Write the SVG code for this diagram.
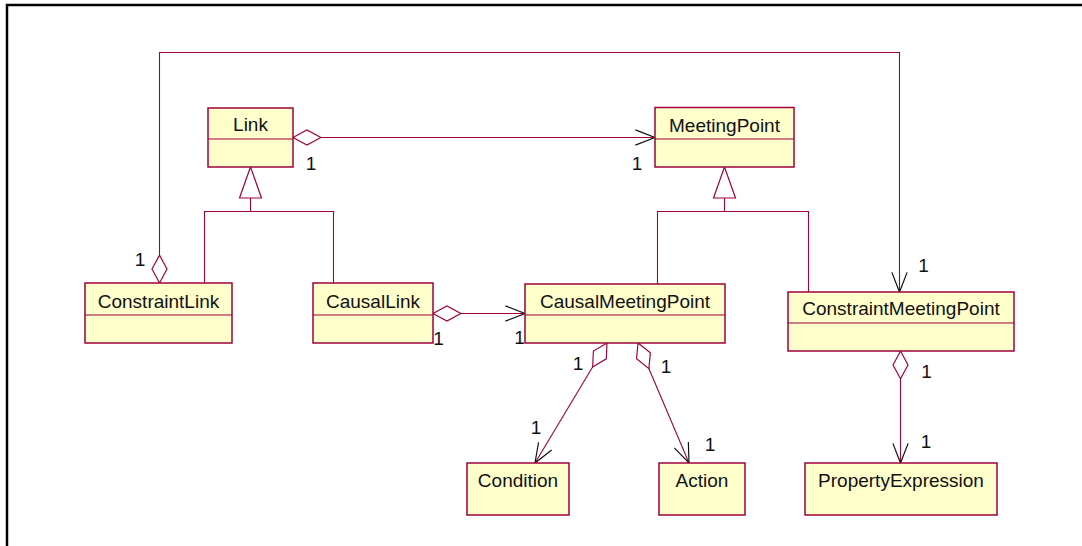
<svg xmlns="http://www.w3.org/2000/svg" width="1082" height="546" viewBox="0 0 1082 546">
  <style>
    .cls { fill: #FFFFCC; stroke: #A0003C; stroke-width: 1.5; }
    .div { stroke: #A0003C; stroke-width: 1.2; fill: none; }
    .name { font-family: "Liberation Sans", Arial, sans-serif; font-size: 19px; fill: #111; text-anchor: middle; }
    .mult { font-family: "Liberation Sans", Arial, sans-serif; font-size: 19px; fill: #111; text-anchor: middle; }
    .edge { fill: none; stroke: #A0003C; stroke-width: 1.1; }
    .gen { fill: #FFFFFF; stroke: #A0003C; stroke-width: 1.2; }
  </style>
  <defs>
    <!-- aggregation diamond at the owning end -->
    <marker id="diamond" markerUnits="userSpaceOnUse" markerWidth="30" markerHeight="18" viewBox="-1 -8 28 16" refX="0" refY="0" orient="auto" overflow="visible">
      <path d="M0,0 L13,-7 L26,0 L13,7 Z" fill="#FFFFFF" stroke="#A0003C" stroke-width="1.1"/>
    </marker>
    <!-- open navigability arrow -->
    <marker id="arrow" markerUnits="userSpaceOnUse" markerWidth="24" markerHeight="18" viewBox="-20 -8 22 16" refX="0" refY="0" orient="auto" overflow="visible">
      <path d="M-18,-7 L0,0 L-18,7" fill="none" stroke="#111" stroke-width="1.1"/>
    </marker>
  </defs>

  <rect width="1082" height="546" fill="#FFFFFF"/>
  <!-- frame -->
  <path d="M7,546 V5 H1082" fill="none" stroke="#000" stroke-width="2.5"/>

  <!-- connectors -->
  <g id="connectors">
    <!-- generalization: ConstraintLink, CausalLink -> Link -->
    <path class="edge" d="M204.5,283 V211.5 H333.5 V283"/>
    <path class="edge" d="M250.5,198 V211.5"/>
    <polygon class="gen" points="250.5,167 239.5,198 261.5,198"/>
    <!-- generalization: CausalMeetingPoint, ConstraintMeetingPoint -> MeetingPoint -->
    <path class="edge" d="M657.5,284 V211.5 H808.5 V292"/>
    <path class="edge" d="M724.5,198 V211.5"/>
    <polygon class="gen" points="724.5,167 713.5,198 735.5,198"/>

    <!-- associations -->
    <path class="edge" d="M293,137.5 H655" marker-start="url(#diamond)" marker-end="url(#arrow)"/>
    <path class="edge" d="M159.5,283 V52.5 H899.5 V292" marker-start="url(#diamond)" marker-end="url(#arrow)"/>
    <path class="edge" d="M433,313.5 H525" marker-start="url(#diamond)" marker-end="url(#arrow)"/>
    <path class="edge" d="M607,343 L535,463" marker-start="url(#diamond)" marker-end="url(#arrow)"/>
    <path class="edge" d="M638,343 L689,463" marker-start="url(#diamond)" marker-end="url(#arrow)"/>
    <path class="edge" d="M900.5,351 V463" marker-start="url(#diamond)" marker-end="url(#arrow)"/>

    <!-- multiplicities -->
    <text class="mult" x="311" y="170">1</text>
    <text class="mult" x="637" y="170">1</text>
    <text class="mult" x="140" y="266">1</text>
    <text class="mult" x="438.5" y="345">1</text>
    <text class="mult" x="519.5" y="344">1</text>
    <text class="mult" x="578" y="370">1</text>
    <text class="mult" x="666" y="373">1</text>
    <text class="mult" x="536" y="434">1</text>
    <text class="mult" x="710" y="451">1</text>
    <text class="mult" x="923.5" y="272">1</text>
    <text class="mult" x="926.5" y="378">1</text>
    <text class="mult" x="926" y="448">1</text>
  </g>

  <!-- classes -->
  <g id="Link">
    <rect class="cls" x="208" y="108" width="85" height="59"/>
    <line class="div" x1="208" y1="139" x2="293" y2="139"/>
    <text class="name" x="250.5" y="131">Link</text>
  </g>
  <g id="MeetingPoint">
    <rect class="cls" x="655" y="107.5" width="139" height="59.5"/>
    <line class="div" x1="655" y1="139" x2="794" y2="139"/>
    <text class="name" x="724.5" y="131.5">MeetingPoint</text>
  </g>
  <g id="ConstraintLink">
    <rect class="cls" x="85" y="283" width="147" height="60"/>
    <line class="div" x1="85" y1="315" x2="232" y2="315"/>
    <text class="name" x="158.5" y="307.5">ConstraintLink</text>
  </g>
  <g id="CausalLink">
    <rect class="cls" x="313" y="283" width="120" height="60"/>
    <line class="div" x1="313" y1="315" x2="433" y2="315"/>
    <text class="name" x="373" y="307.5">CausalLink</text>
  </g>
  <g id="CausalMeetingPoint">
    <rect class="cls" x="525" y="284" width="200" height="59"/>
    <line class="div" x1="525" y1="315" x2="725" y2="315"/>
    <text class="name" x="625" y="307.5">CausalMeetingPoint</text>
  </g>
  <g id="ConstraintMeetingPoint">
    <rect class="cls" x="788" y="292" width="226" height="59"/>
    <line class="div" x1="788" y1="323" x2="1014" y2="323"/>
    <text class="name" x="901" y="315">ConstraintMeetingPoint</text>
  </g>
  <g id="Condition">
    <rect class="cls" x="467" y="463" width="102" height="52"/>
    <text class="name" x="518" y="486.5">Condition</text>
  </g>
  <g id="Action">
    <rect class="cls" x="659" y="463" width="86" height="52"/>
    <text class="name" x="702" y="486.5">Action</text>
  </g>
  <g id="PropertyExpression">
    <rect class="cls" x="805" y="463" width="192" height="52"/>
    <text class="name" x="901" y="486.5">PropertyExpression</text>
  </g>
</svg>
